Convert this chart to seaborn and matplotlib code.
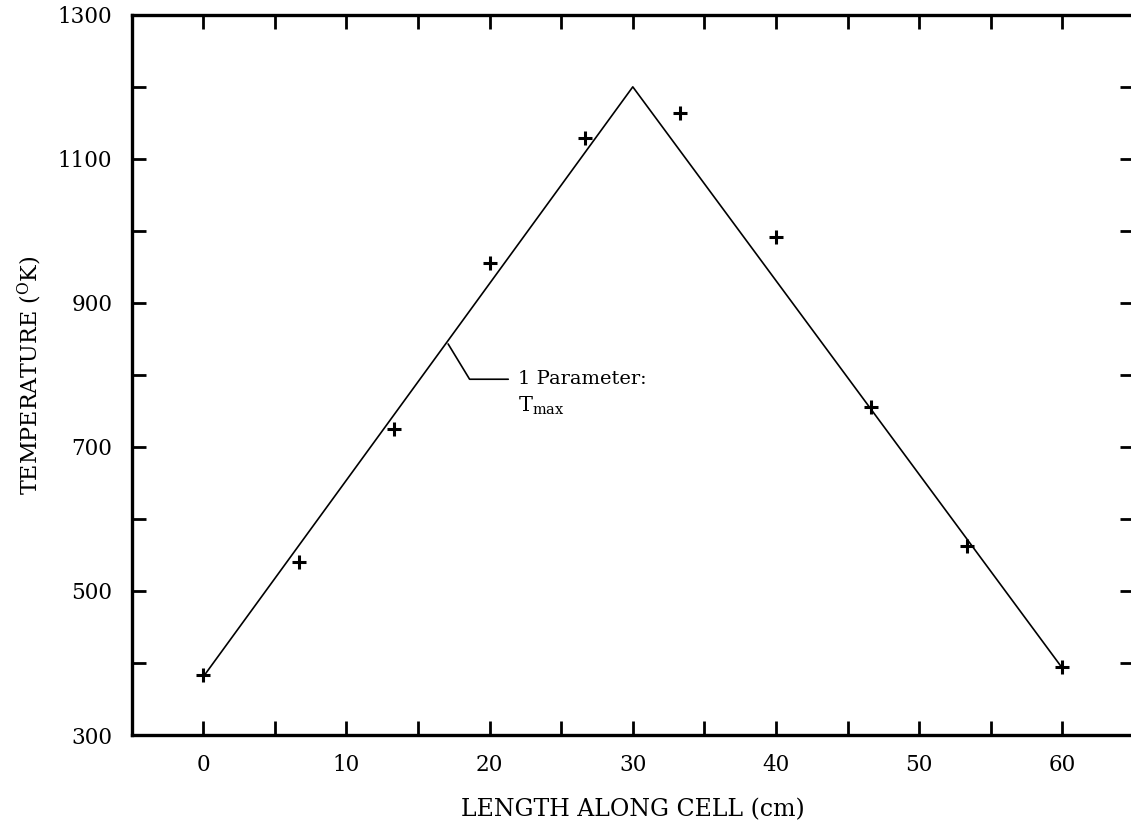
import numpy as np
import pandas as pd
import seaborn as sns
import matplotlib.pyplot as plt
from matplotlib.ticker import MultipleLocator

# measured points (+ markers)
length_cm = [0, 6.67, 13.33, 20, 26.67, 33.33, 40, 46.67, 53.33, 60]
temp_k = [383, 540, 725, 956, 1129, 1163, 991, 755, 562, 395]

# 1 parameter fit (T max)
fit_x = [0, 30, 60]
fit_y = [381, 1200, 393]

y_labels = [300, 500, 700, 900, 1100, 1300]

sns.set_style("ticks")
plt.rcParams['font.family'] = ['DejaVu Serif']
plt.rcParams['mathtext.fontset'] = 'dejavuserif'

df = pd.DataFrame({'x': length_cm, 'T': temp_k})
fit = pd.DataFrame({'x': fit_x, 'T': fit_y})

fig = plt.figure(figsize=(11.31, 8.24), dpi=100)
ax = fig.add_axes([0.1165, 0.108, 0.886, 0.874])

sns.lineplot(data=fit, x='x', y='T', sort=False, color='black', linewidth=1.2, ax=ax)
sns.scatterplot(data=df, x='x', y='T', marker='+', s=90, color='black', linewidth=2.2, ax=ax, zorder=3)

# leader line to the label
ax.plot([17.1, 18.6, 21.3], [843, 794, 794], color='black', linewidth=1.2)
ax.text(22.0, 794, '1 Parameter:', fontsize=14, va='center', ha='left', color='black')
ax.text(22.0, 757, r'T$_{\rm max}$', fontsize=15, va='center', ha='left', color='black')

ax.set_xlim(-5, 65)
ax.set_ylim(300, 1300)
ax.xaxis.set_major_locator(MultipleLocator(10))
ax.xaxis.set_minor_locator(MultipleLocator(5))
ax.set_yticks(y_labels)
ax.yaxis.set_minor_locator(MultipleLocator(100))

ax.tick_params(which='both', direction='in', top=True, right=True, length=10, width=2,
               labelsize=15.5, pad=14, colors='black')
for s in ax.spines.values():
    s.set_linewidth(2.4)
    s.set_color('black')

ax.set_xlabel('LENGTH ALONG CELL (cm)', fontsize=17, labelpad=16, color='black')
ax.set_ylabel(r'TEMPERATURE ($^{\rm O}$K)', fontsize=16, labelpad=10, color='black')

fig.savefig('out.png', dpi=100)
